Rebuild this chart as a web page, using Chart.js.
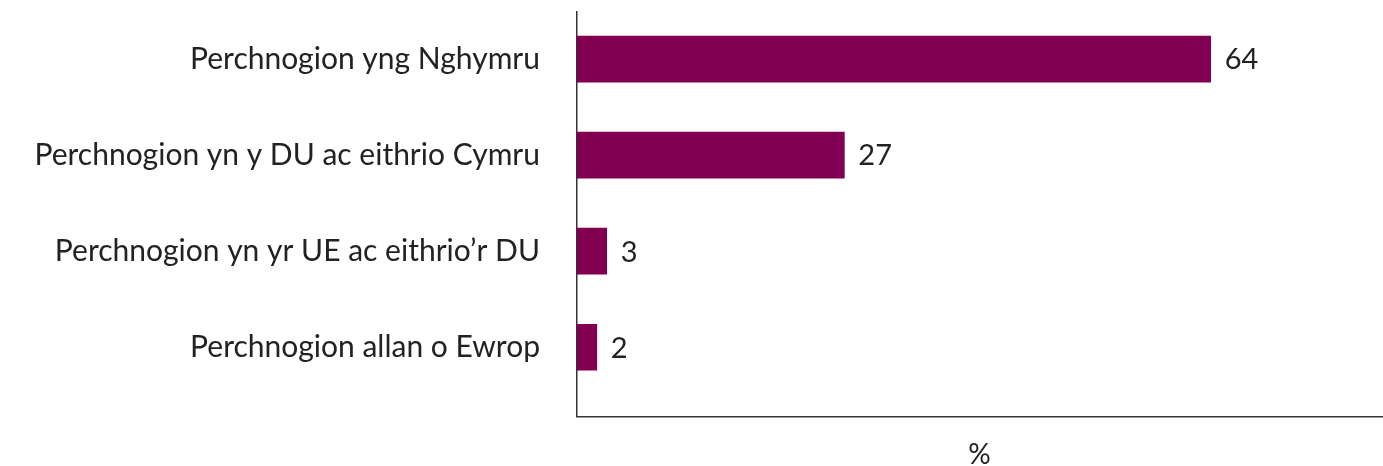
<!DOCTYPE html>
<html>
<head>
<meta charset="utf-8">
<script src="https://cdn.jsdelivr.net/npm/chart.js@4/dist/chart.umd.min.js"></script>
<style>
html,body{margin:0;padding:0;background:#fff;}
#wrap{width:1383px;height:466px;position:relative;}
</style>
</head>
<body>
<div id="wrap"><canvas id="c"></canvas></div>
<script>
const categories = [
  "Perchnogion yng Nghymru",
  "Perchnogion yn y DU ac eithrio Cymru",
  "Perchnogion yn yr UE ac eithrio\u2019r DU",
  "Perchnogion allan o Ewrop"
];
const values = [64, 27, 3, 2];
const axisTitle = "%";

const FONT = "Lato, 'Open Sans', sans-serif";
const barColor = "#820052";
const textColor = "#222222";

const valueLabels = {
  id: 'valueLabels',
  afterDatasetsDraw(chart) {
    const ctx = chart.ctx;
    const meta = chart.getDatasetMeta(0);
    ctx.save();
    ctx.font = "29px " + FONT;
    ctx.fillStyle = textColor;
    ctx.textAlign = 'left';
    ctx.textBaseline = 'middle';
    meta.data.forEach((bar, i) => {
      ctx.fillText(String(values[i]), bar.x + 14, bar.y + 1);
    });
    ctx.restore();
  }
};

new Chart(document.getElementById('c'), {
  type: 'bar',
  data: {
    datasets: [{
      data: values.map((v, i) => ({ x: v, y: i })),
      backgroundColor: barColor,
      borderWidth: 0,
      barThickness: 46
    }]
  },
  options: {
    indexAxis: 'y',
    responsive: true,
    maintainAspectRatio: false,
    animation: false,
    layout: { padding: { top: 12, right: 1, bottom: 0, left: 0 } },
    plugins: { legend: { display: false }, tooltip: { enabled: false } },
    scales: {
      x: {
        type: 'linear',
        min: 0,
        max: 81.3,
        grid: { display: false, drawTicks: false },
        border: { display: true, color: '#333333', width: 1.5 },
        ticks: { display: false },
        title: {
          display: true,
          text: axisTitle,
          color: textColor,
          font: { family: FONT, size: 28 },
          padding: { top: 22, bottom: -6 }
        }
      },
      y: {
        type: 'linear',
        reverse: true,
        offset: false,
        min: -0.49,
        max: 3.72,
        grid: { display: false, drawTicks: false },
        border: { display: true, color: '#333333', width: 1.5 },
        afterBuildTicks(axis) {
          axis.ticks = categories.map((c, i) => ({ value: i }));
        },
        afterFit(axis) {
          axis.width = 577;
          axis.paddingTop = 0;
          axis.paddingBottom = 0;
        },
        ticks: {
          color: textColor,
          padding: 37,
          font: { family: FONT, size: 30 },
          callback: (v) => categories[v] ?? ''
        }
      }
    }
  },
  plugins: [valueLabels]
});
</script>
</body>
</html>
